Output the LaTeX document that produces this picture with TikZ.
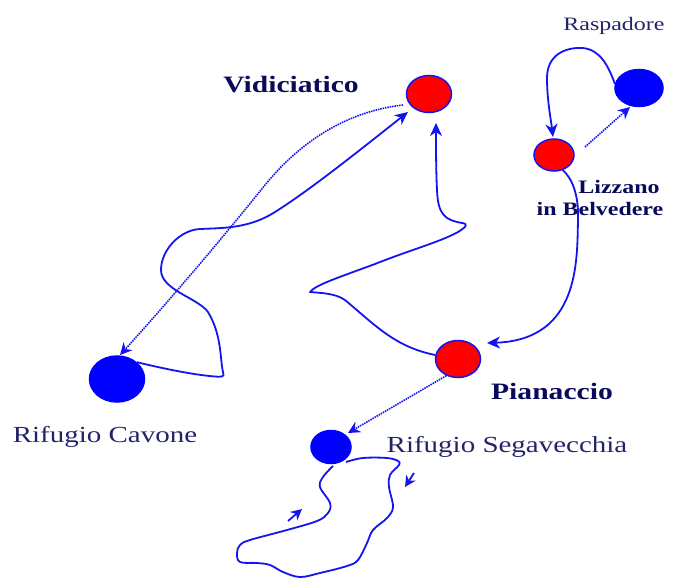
\documentclass[tikz,border=0pt]{standalone}
\usepackage{fontspec}
\setmainfont{Liberation Serif}
\newfontfamily\widefont[FakeStretch=1.26]{Liberation Serif}
\usetikzlibrary{shapes.geometric,arrows.meta,calc}
\definecolor{routeblue}{RGB}{20,20,240}
\definecolor{labelnavy}{RGB}{10,10,90}
\definecolor{labelgrey}{RGB}{35,35,105}
\tikzset{
  x=1pt,y=-1pt,
  stop/.style={ellipse,inner sep=0pt,draw=routeblue,line width=1.5pt},
  redstop/.style={stop,fill=red},
  bluestop/.style={stop,fill=blue,draw=blue},
  route/.style={draw=routeblue,line width=1.8pt,line join=round,-{Stealth[length=13pt,width=12pt,inset=4pt]}},
  plainroute/.style={draw=routeblue,line width=1.8pt,line join=round},
  link/.style={draw=routeblue,line width=1.6pt,dash pattern=on 1.5pt off 0.9pt,-{Stealth[length=12pt,width=12pt,inset=4pt,sep=0pt]}},
  mark arrow/.style={draw=routeblue,line width=1.8pt,-{Stealth[length=11pt,width=11pt,inset=3.5pt]}},
  boldlabel/.style={text=labelnavy,inner sep=0pt},
  thinlabel/.style={text=labelgrey,inner sep=0pt},
}
\begin{document}
\begin{tikzpicture}
\useasboundingbox (0,0) rectangle (675,586);
\node[redstop,minimum width=45pt,minimum height=37pt] (vid) at (429,94) {};
\node[bluestop,minimum width=48pt,minimum height=37pt] (ras) at (639,88) {};
\node[redstop,minimum width=40pt,minimum height=32pt] (liz) at (554,155) {};
\node[redstop,minimum width=45pt,minimum height=37pt] (pia) at (458,359) {};
\node[bluestop,minimum width=40pt,minimum height=33pt] (seg) at (331,447) {};
\node[bluestop,minimum width=55pt,minimum height=46pt] (cav) at (117,379) {};

\node[boldlabel,font=\widefont\bfseries\fontsize{23.5}{26}\selectfont] (tvid) at (291,85) {Vidiciatico};
\node[thinlabel,font=\widefont\fontsize{19}{22}\selectfont] (tras) at (614,26) {Raspadore};
\node[boldlabel,font=\widefont\bfseries\fontsize{19}{23}\selectfont] (tliza) at (619,187) {Lizzano};
\node[boldlabel,font=\widefont\bfseries\fontsize{19}{23}\selectfont] (tlizb) at (600,209) {in Belvedere};
\node[boldlabel,font=\widefont\bfseries\fontsize{23.5}{26}\selectfont] (tpia) at (552,391) {Pianaccio};
\node[thinlabel,font=\widefont\fontsize{23}{26}\selectfont] (tcav) at (105,437) {Rifugio Cavone};
\node[thinlabel,font=\widefont\fontsize{23}{26}\selectfont] (tseg) at (507,447) {Rifugio Segavecchia};

% solid routes
\draw[route] (cav.40) .. controls (165,369) and (195,375) .. (215,376.5) .. controls (222,377) and (225,377) .. (223,372) .. controls (220,360) and (222,335) .. (208,312) .. controls (198,298) and (161,290) .. (161,270) .. controls (161,250) and (180,230) .. (200,229) .. controls (225,228) and (250,228) .. (275,212) .. controls (310,190) and (360,150) .. ($(vid)+(-21,18)$);
\draw[route] (pia.170) .. controls (395,347) and (375,325) .. (345,300) .. controls (335,293) and (320,293) .. (310,292) .. controls (315,285) and (340,277) .. (375,264) .. controls (410,250) and (440,242) .. (458,232) .. controls (466,227) and (469,224) .. (462,223) .. controls (445,220) and (438,215) .. (437,190) .. controls (436,170) and (436,150) .. ($(vid)+(7,29)$);
\draw[route] (ras.170) .. controls (608,65) and (600,50) .. (583,48) .. controls (565,47) and (547,55) .. (547,78) .. controls (547,100) and (551,120) .. ($(liz)+(-1,-18)$);
\draw[route] (liz.-60) .. controls (572,178) and (579,195) .. (578,220) .. controls (577,260) and (580,340) .. ($(pia)+(29,-16)$);
\draw[plainroute] plot[smooth,tension=0.6] coordinates {(346,462) (363,458) (387,458) (398,461) (399,465) (390,475) (389,487) (393,507) (387,518) (373,530) (367,543) (358,560) (347,566) (320,573) (300,577) (283,572) (270,565) (257,563) (240,562) (237,553) (240,545) (250,540) (287,530) (317,521) (328,513) (330,503) (320,487) (323,477) (333,466)};

% dotted links
\draw[link] ($(vid)+(-26,11)$) .. controls (360,110) and (310,130) .. (265,185) .. controls (225,235) and (170,300) .. ($(cav)+(3,-24)$);
\draw[link] ($(liz)+(31,-8)$) -- ($(ras)+(-9,19)$);
\draw[link] (pia.235) -- ($(seg)+(17,-14)$);

% small direction marks
\coordinate (m1a) at (288,521); \coordinate (m1b) at (302,509);
\coordinate (m2a) at (414,473); \coordinate (m2b) at (405,487);
\draw[mark arrow] (m1a) -- (m1b);
\draw[mark arrow] (m2a) -- (m2b);
\end{tikzpicture}
\end{document}
